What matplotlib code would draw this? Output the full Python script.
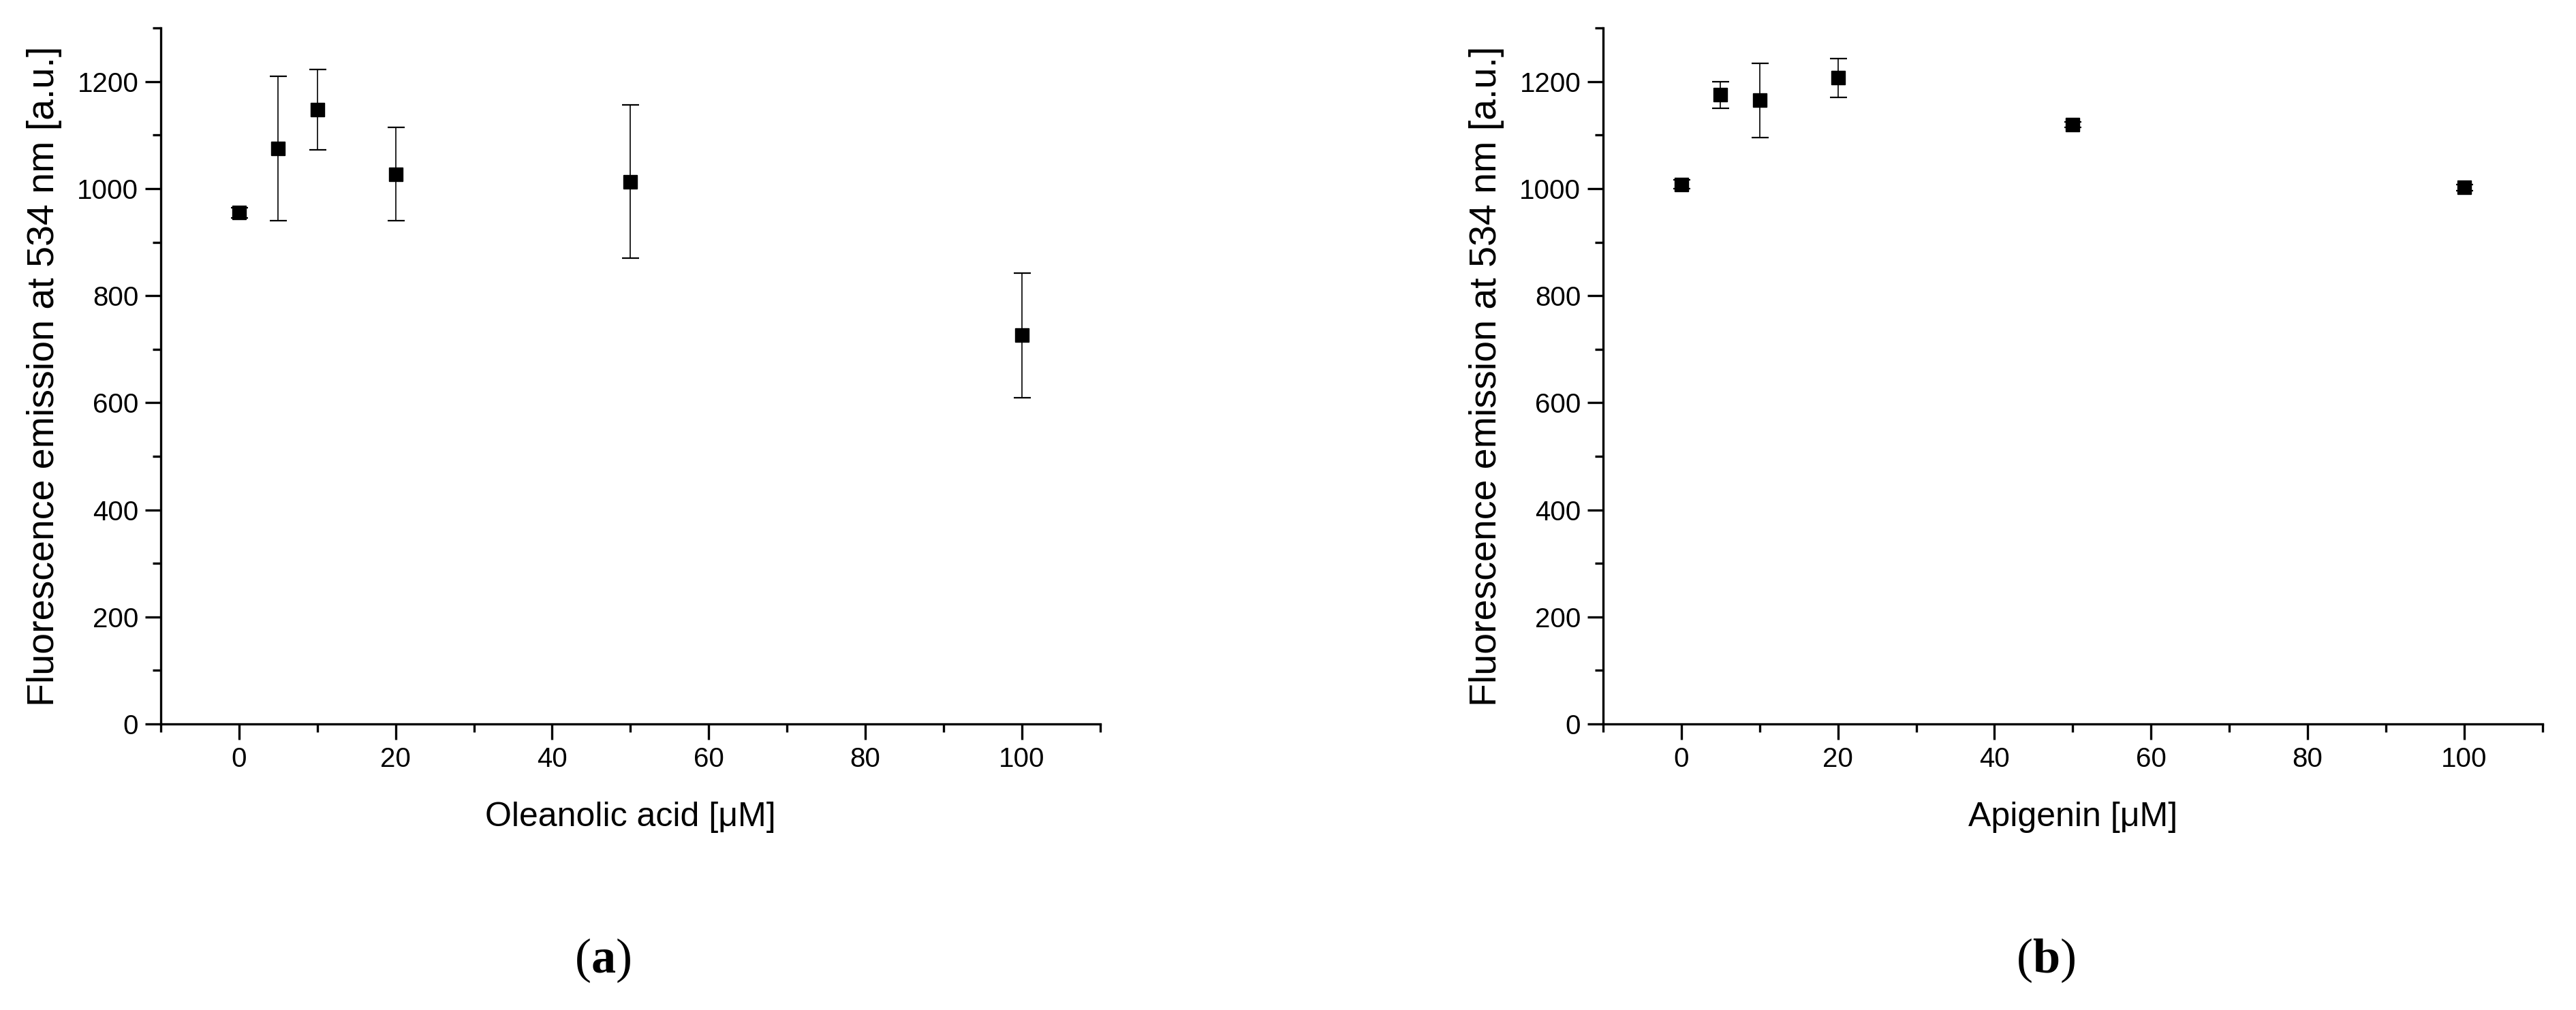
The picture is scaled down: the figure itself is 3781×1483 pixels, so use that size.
import numpy as np
import matplotlib
matplotlib.use("Agg")
import matplotlib.pyplot as plt
from matplotlib.ticker import MultipleLocator

plt.rcParams['font.family'] = ['Liberation Sans', 'DejaVu Sans']
plt.rcParams['mathtext.fontset'] = 'custom'
plt.rcParams['mathtext.rm'] = 'Liberation Serif'
plt.rcParams['mathtext.bf'] = 'Liberation Serif:bold'

# concentrations [uM]
conc = [0, 5, 10, 20, 50, 100]

# panel (a): oleanolic acid
oa_mean = [955, 1075, 1148, 1027, 1013, 726]
oa_err = [10, 135, 75, 87, 143, 116]

# panel (b): apigenin
api_mean = [1008, 1175, 1165, 1207, 1120, 1002]
api_err = [8, 25, 69, 36, 5, 6]

xlabels = ["Oleanolic acid [\u03bcM]", "Apigenin [\u03bcM]"]
ylabel = "Fluorescence emission at 534 nm [a.u.]"
panel_tags = ["a", "b"]

fig = plt.figure(figsize=(37.81, 14.83), dpi=100)
ax_a = fig.add_axes([0.0624, 0.2832, 0.3647, 0.689])
ax_b = fig.add_axes([0.6223, 0.2832, 0.3647, 0.689])


def draw_panel(ax, means, errs, xlabel):
    ax.errorbar(conc, means, yerr=errs, fmt='s', color='black',
                markersize=15, ecolor='black', elinewidth=1.2,
                capsize=9, capthick=1.6)
    ax.set_xlim(-10, 110)
    ax.set_ylim(0, 1300)
    ax.xaxis.set_major_locator(MultipleLocator(20))
    ax.xaxis.set_minor_locator(MultipleLocator(10))
    ax.yaxis.set_major_locator(MultipleLocator(200))
    ax.yaxis.set_minor_locator(MultipleLocator(100))
    for side in ['top', 'right']:
        ax.spines[side].set_visible(False)
    for side in ['left', 'bottom']:
        ax.spines[side].set_linewidth(2.4)
    ax.tick_params(which='major', direction='out', length=16.5, width=2.4,
                   labelsize=29, pad=7)
    ax.tick_params(which='minor', direction='out', length=8.5, width=2.4)
    ax.set_xlabel(xlabel, fontsize=36, labelpad=31)
    ax.set_ylabel(ylabel, fontsize=40, labelpad=16)


draw_panel(ax_a, oa_mean, oa_err, xlabels[0])
draw_panel(ax_b, api_mean, api_err, xlabels[1])

for xpos, tag in zip([0.234, 0.794], panel_tags):
    fig.text(xpos, 0.049, r'$\mathrm{(}\mathbf{%s}\mathrm{)}$' % tag,
             fontsize=52, ha='center', va='center')

fig.savefig("out.png", dpi=100)
